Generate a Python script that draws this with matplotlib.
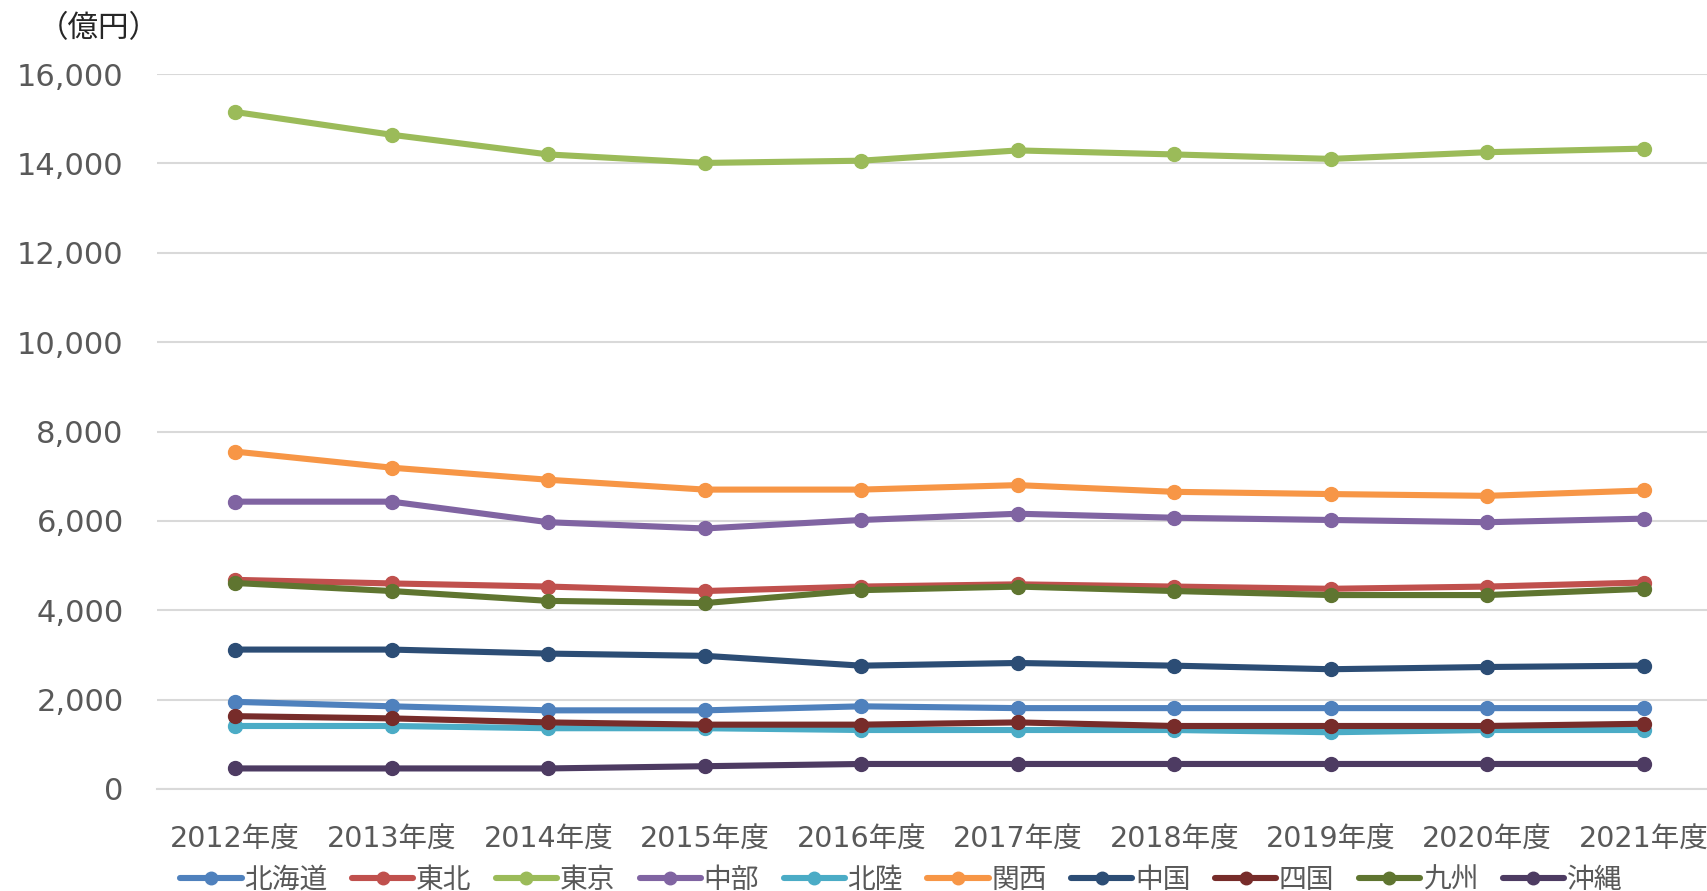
import matplotlib
matplotlib.use("Agg")
import matplotlib.pyplot as plt
from matplotlib.ticker import FuncFormatter, FixedLocator

plt.rcParams['font.family'] = ['DejaVu Sans', 'Noto Sans CJK JP']

years = ["2012年度", "2013年度", "2014年度", "2015年度", "2016年度",
         "2017年度", "2018年度", "2019年度", "2020年度", "2021年度"]

regions = ["北海道", "東北", "東京", "中部", "北陸", "関西", "中国", "四国", "九州", "沖縄"]

hokkaido = [1950, 1850, 1760, 1760, 1850, 1810, 1810, 1810, 1810, 1810]
tohoku   = [4680, 4600, 4530, 4430, 4530, 4580, 4530, 4480, 4530, 4620]
tokyo    = [15150, 14640, 14200, 14010, 14060, 14290, 14200, 14100, 14250, 14330]
chubu    = [6430, 6430, 5970, 5830, 6020, 6160, 6070, 6020, 5970, 6050]
hokuriku = [1410, 1410, 1360, 1360, 1320, 1320, 1320, 1270, 1320, 1320]
kansai   = [7550, 7190, 6920, 6700, 6700, 6800, 6650, 6600, 6560, 6680]
chugoku  = [3120, 3120, 3030, 2980, 2760, 2820, 2760, 2680, 2730, 2760]
shikoku  = [1630, 1580, 1490, 1440, 1440, 1490, 1410, 1410, 1410, 1460]
kyushu   = [4610, 4430, 4210, 4160, 4450, 4530, 4430, 4340, 4340, 4480]
okinawa  = [460, 460, 460, 510, 560, 560, 560, 560, 560, 560]

series = [hokkaido, tohoku, tokyo, chubu, hokuriku, kansai, chugoku, shikoku, kyushu, okinawa]
colors = ["#4F81BD", "#C0504D", "#9BBB59", "#8064A2", "#4BACC6",
          "#F79646", "#2C4D75", "#772C2A", "#5F7530", "#4D3B62"]

W, H = 1707, 891
fig = plt.figure(figsize=(W / 100, H / 100), dpi=100)
left, right = 157, 1722
bottom, top = 789, 74
ax = fig.add_axes([left / W, (H - bottom) / H, (right - left) / W, (bottom - top) / H])

x = list(range(len(years)))
for name, vals, c in zip(regions, series, colors):
    ax.plot(x, vals, color=c, lw=4.4, marker='o', markersize=10,
            markeredgecolor=c, markerfacecolor=c, label=name,
            solid_capstyle='round', clip_on=False)

ax.set_xlim(-0.5, 9.5)
ax.set_ylim(0, 16000)
ax.yaxis.set_major_locator(FixedLocator(list(range(0, 16001, 2000))))
ax.yaxis.set_major_formatter(FuncFormatter(lambda v, p: f"{int(v):,}"))
ax.set_xticks(x)
ax.set_xticklabels(years)

ax.grid(axis='y', color='#D9D9D9', lw=1.5)
ax.set_axisbelow(True)
for s in ['top', 'right', 'left']:
    ax.spines[s].set_visible(False)
ax.spines['bottom'].set_color('#D9D9D9')
ax.spines['bottom'].set_linewidth(1.5)
ax.tick_params(axis='both', length=0, colors='#595959')
ax.tick_params(axis='y', labelsize=22, pad=24)
ax.tick_params(axis='x', labelsize=20.5, pad=26.5)

fig.text(160 / W, (H - 29) / H, "（億円）", ha='right', va='center',
         fontsize=22, color='#262626')

leg = fig.legend(loc='center', bbox_to_anchor=(0.528, (H - 880) / H), ncol=10,
                 frameon=False, fontsize=20, handlelength=2.2, handletextpad=0.1,
                 columnspacing=0.88, borderaxespad=0, borderpad=0)
for t in leg.get_texts():
    t.set_color('#595959')
for h in leg.legend_handles:
    h.set_markersize(9)

fig.savefig("out.png", dpi=100)
